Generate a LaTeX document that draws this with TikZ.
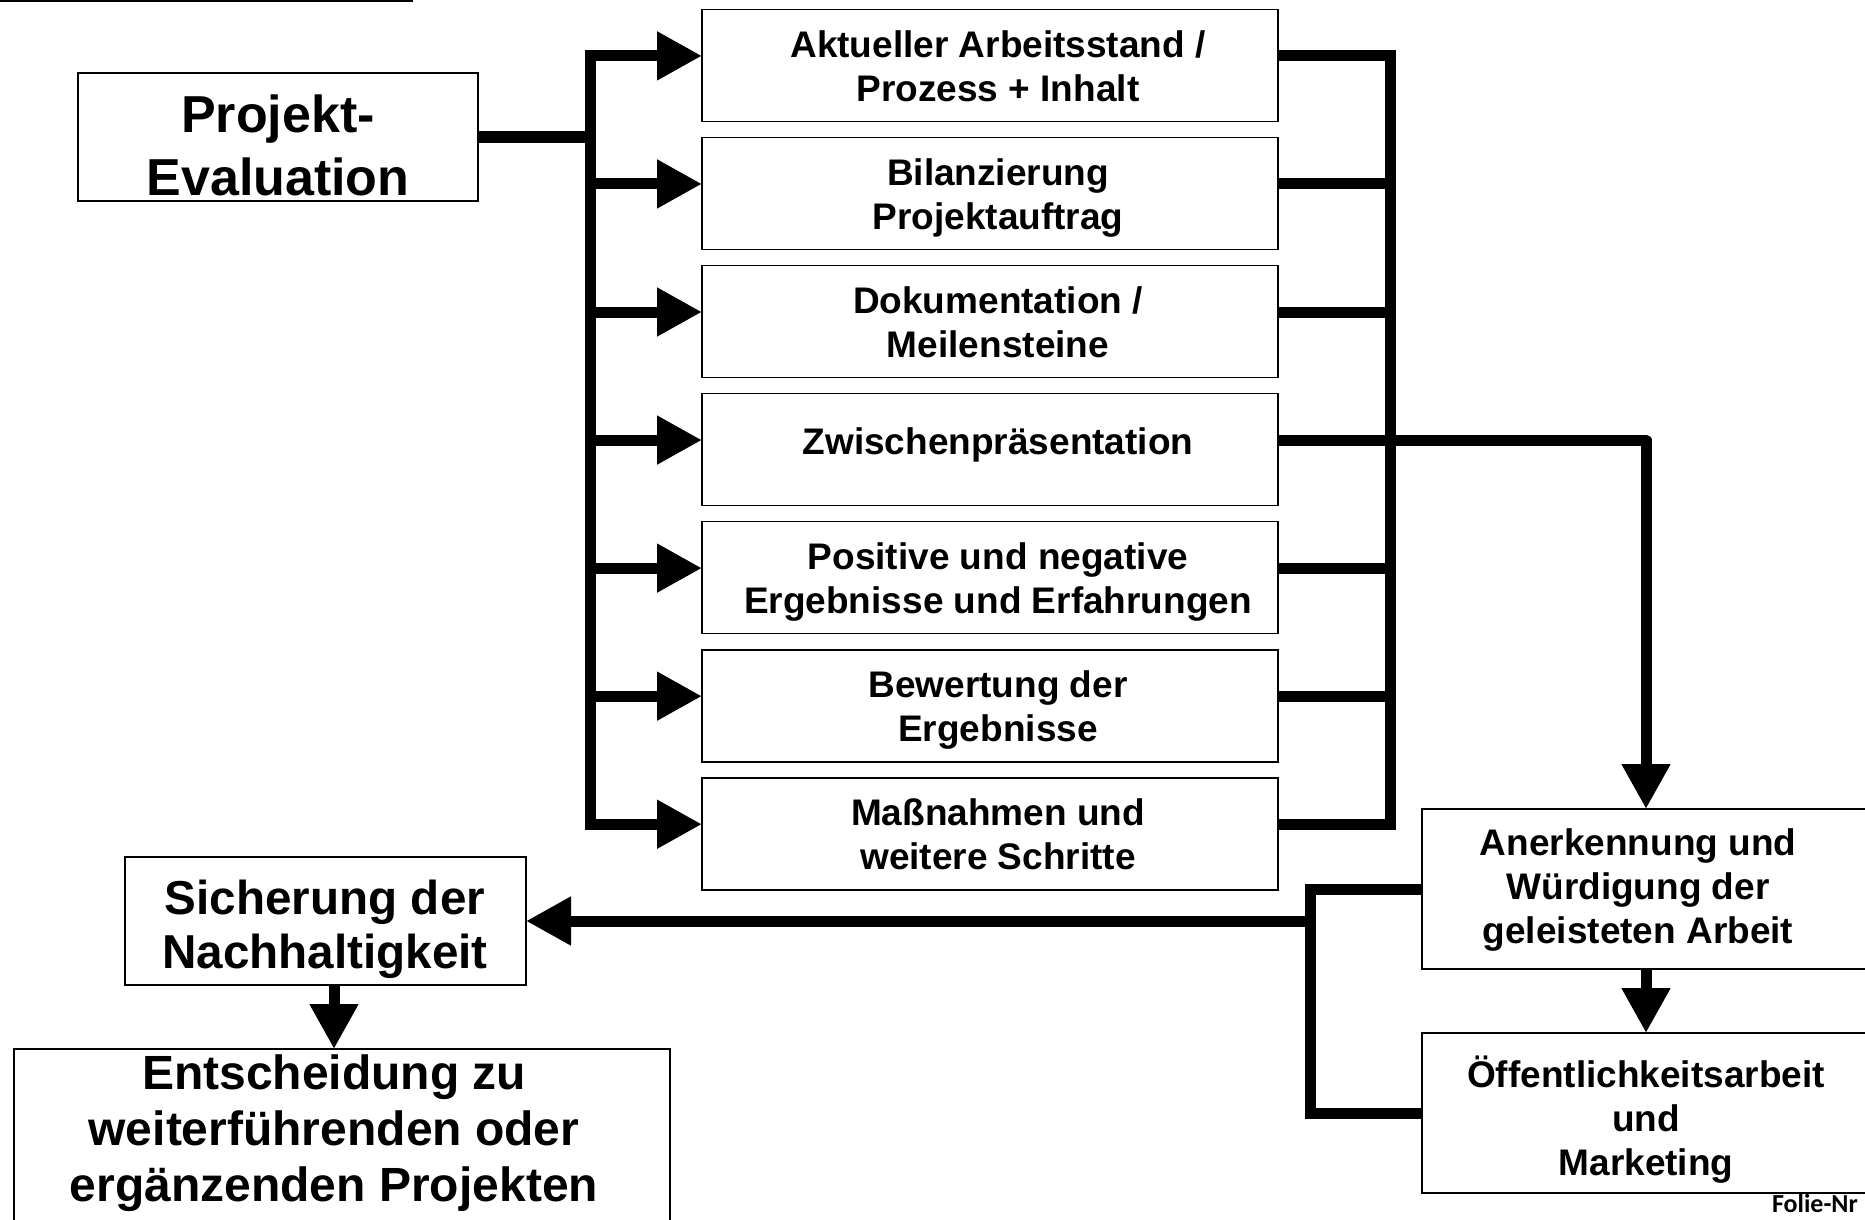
\documentclass[tikz,border=0pt]{standalone}
\usepackage{fontspec}
\setmainfont{Liberation Sans}
\newfontfamily\carlito{Carlito}
\usetikzlibrary{arrows.meta}
\begin{document}
\begin{tikzpicture}[x=1pt,y=-1pt,
  box/.style={draw=black, line width=1.5pt, inner sep=0pt, outer sep=0pt, fill=white},
  mbox/.style={box, minimum width=576pt, minimum height=112pt},
  rbox/.style={box, minimum width=448pt, minimum height=160pt},
  txt/.style={align=center, inner sep=0pt, font=\bfseries\fontsize{37}{44}\selectfont},
  bigtxt/.style={align=center, inner sep=0pt, font=\bfseries\fontsize{48}{56}\selectfont},
  conn/.style={line width=11pt},
  arr/.style={conn, -{Triangle[length=45pt,width=46pt]}}]
\useasboundingbox (0,0) rectangle (1865,1220);
\clip (0,0) rectangle (1865,1220);
% top-left rule
\coordinate (r0) at (0,1);
\coordinate (r1) at (413,1);
\draw[line width=1.5pt] (r0) -- (r1);
% boxes
\node[box, minimum width=400pt, minimum height=128pt] (P) at (278,137) {};
\node[mbox] (m1) at (990,65.5) {};
\node[mbox] (m2) at (990,193.55) {};
\node[mbox] (m3) at (990,321.6) {};
\node[mbox] (m4) at (990,449.65) {};
\node[mbox] (m5) at (990,577.7) {};
\node[mbox] (m6) at (990,705.75) {};
\node[mbox] (m7) at (990,833.8) {};
\node[rbox] (A) at (1646,889) {};
\node[rbox] (O) at (1646,1113) {};
\node[box, minimum width=401pt, minimum height=128pt] (S) at (325.5,921) {};
\node[box, minimum width=656pt, minimum height=191pt] (E) at (342,1144.5) {};
% texts
\node[align=center, inner sep=0pt, font=\bfseries\fontsize{52}{63}\selectfont] (tP) at (278,151) {\strut Projekt-\\\strut Evaluation};
\node[txt] (t1) at (998,70.5) {\strut Aktueller Arbeitsstand /\\\strut Prozess + Inhalt};
\node[txt] (t2) at (998,198.5) {\strut Bilanzierung\\\strut Projektauftrag};
\node[txt] (t3) at (998,326.6) {\strut Dokumentation /\\\strut Meilensteine};
\node[txt] (t4) at (998,445.6) {\strut Zwischenpräsentation};
\node[txt] (t5) at (998,582.7) {\strut Positive und negative\\\strut Ergebnisse und Erfahrungen};
\node[txt] (t6) at (998,710.7) {\strut Bewertung der\\\strut Ergebnisse};
\node[txt] (t7) at (998,838.8) {\strut Maßnahmen und\\\strut weitere Schritte};
\node[txt] (tA) at (1638,891) {\strut Anerkennung und\\\strut Würdigung der\\\strut geleisteten Arbeit};
\node[txt] (tO) at (1646,1122) {\strut Öffentlichkeitsarbeit\\\strut und\\\strut Marketing};
\node[align=center, inner sep=0pt, font=\bfseries\fontsize{47.6}{53.5}\selectfont] (tS) at (325,931) {\strut Sicherung der\\\strut Nachhaltigkeit};
\node[bigtxt] (tE) at (334,1134) {\strut Entscheidung zu\\\strut weiterführenden oder\\\strut ergänzenden Projekten};
\node[anchor=base east, inner sep=0pt, font=\carlito\bfseries\fontsize{26}{30}\selectfont] (folie) at (1858,1212) {Folie-Nr};
% connectors
\coordinate (busL) at (590,0);
\coordinate (busR) at (1390,0);
\coordinate (brk) at (1310,0);
\foreach \i in {1,...,7} {
  \coordinate (in\i) at ([yshift=9.6pt]m\i.west);
  \coordinate (out\i) at ([yshift=9.6pt]m\i.east);
}
\draw[conn] (P.east) -- (busL |- P.east);
\draw[conn, line cap=rect] (busL |- in1) -- (busL |- in7);
\draw[conn, line cap=rect] (busR |- out1) -- (busR |- out7);
\foreach \i in {1,...,7} {
  \draw[arr] (busL |- in\i) -- (in\i);
  \draw[conn] (out\i) -- (busR |- out\i);
}
\draw[arr, line join=round] (out4) -- (A.north |- out4) -- (A.north);
\draw[arr] (A.south) -- (O.north);
\draw[conn, line join=miter] (A.west) -- (brk |- A.west) -- (brk |- O.west) -- (O.west);
\draw[arr] (brk |- S.east) -- (S.east);
\draw[arr] ([xshift=8.5pt]S.south) -- ([xshift=8.5pt]S.south |- E.north);
\end{tikzpicture}
\end{document}
